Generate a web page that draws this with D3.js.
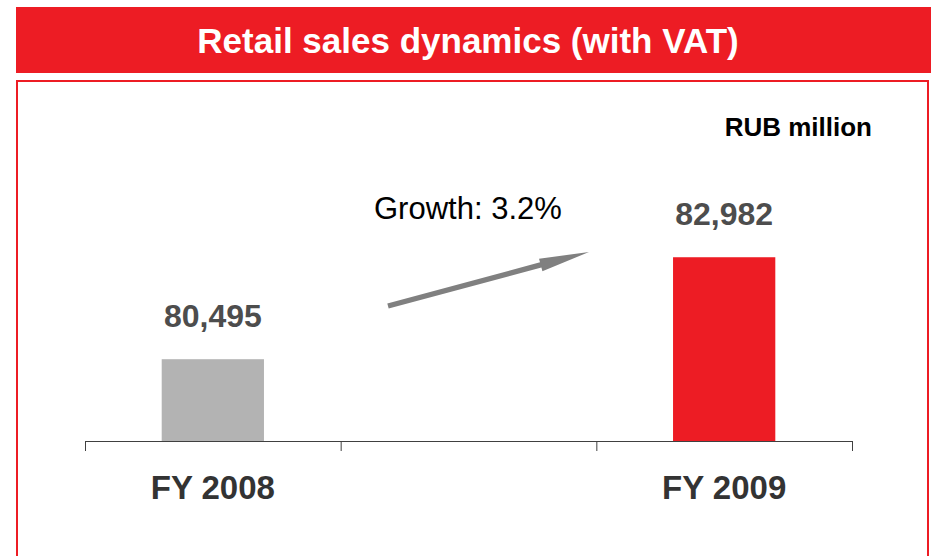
<!DOCTYPE html>
<meta charset="utf-8">
<style>
body { margin: 0; background: #fff; }
text { font-family: "Liberation Sans", Arial, sans-serif; }
</style>
<svg width="932" height="556"></svg>
<script src="https://d3js.org/d3.v7.min.js"></script>
<script>

var categories = ["FY 2008", "", "FY 2009"];
var values = [80495, null, 82982];
var barColors = ["#b3b3b3", null, "#ed1c24"];
var title = "Retail sales dynamics (with VAT)";
var unitLabel = "RUB million";
var growthLabel = "Growth: 3.2%";

var svg = d3.select("svg");
var red = "#ed1c24";

// header band and framed box
svg.append("rect")
    .attr("x", 16).attr("y", 7)
    .attr("width", 915).attr("height", 66)
    .attr("fill", red);

svg.append("text")
    .attr("x", 468).attr("y", 53)
    .attr("text-anchor", "middle")
    .attr("fill", "#fff")
    .style("font-size", "35px")
    .style("font-weight", "bold")
    .text(title);

svg.append("rect")
    .attr("x", 17).attr("y", 81)
    .attr("width", 911).attr("height", 490)
    .attr("fill", "none")
    .attr("stroke", red)
    .attr("stroke-width", 2);

svg.append("text")
    .attr("x", 872).attr("y", 136)
    .attr("text-anchor", "end")
    .attr("fill", "#000")
    .style("font-size", "26px")
    .style("font-weight", "bold")
    .text(unitLabel);

// scales
var x = d3.scaleBand()
    .domain(d3.range(categories.length))
    .range([85, 852])
    .paddingInner(0.6)
    .paddingOuter(0.3);

var y = d3.scaleLinear()
    .domain([78500, 84500])
    .range([441, 195]);

var edges = d3.scaleLinear()
    .domain([0, categories.length])
    .range(x.range());

var data = categories.map(function(c, i) {
  return {i: i, cat: c, value: values[i], color: barColors[i]};
});

// bars
svg.append("g")
  .selectAll("rect")
  .data(data.filter(function(d) { return d.value != null; }))
  .enter().append("rect")
    .attr("x", function(d) { return x(d.i); })
    .attr("y", function(d) { return y(d.value); })
    .attr("width", x.bandwidth())
    .attr("height", function(d) { return y.range()[0] - y(d.value); })
    .attr("fill", function(d) { return d.color; });

// value labels
svg.append("g")
  .selectAll("text")
  .data(data.filter(function(d) { return d.value != null; }))
  .enter().append("text")
    .attr("x", function(d) { return x(d.i) + x.bandwidth() / 2; })
    .attr("y", function(d) { return y(d.value) - 32; })
    .attr("text-anchor", "middle")
    .attr("fill", "#4d4d4d")
    .style("font-size", "32px")
    .style("font-weight", "bold")
    .text(function(d) { return d3.format(",")(d.value); });

// axis with ticks at band edges
var axis = svg.append("g")
    .attr("transform", "translate(0," + y.range()[0] + ")")
    .call(d3.axisBottom(edges)
      .tickValues(d3.range(categories.length + 1))
      .tickFormat("")
      .tickSize(10)
      .tickSizeOuter(0));
axis.select(".domain").attr("stroke", "#404040");
axis.selectAll(".tick line").attr("stroke", "#404040");

// category labels
svg.append("g")
  .selectAll("text")
  .data(data)
  .enter().append("text")
    .attr("x", function(d) { return x(d.i) + x.bandwidth() / 2; })
    .attr("y", 499)
    .attr("text-anchor", "middle")
    .attr("fill", "#333")
    .style("font-size", "33px")
    .style("font-weight", "bold")
    .text(function(d) { return d.cat; });

// growth annotation
svg.append("text")
    .attr("x", 374).attr("y", 219)
    .attr("fill", "#000")
    .style("font-size", "31px")
    .text(growthLabel);

var a0 = [388, 306], a1 = [589, 252];
var len = Math.hypot(a1[0] - a0[0], a1[1] - a0[1]);
var ang = Math.atan2(a1[1] - a0[1], a1[0] - a0[0]) * 180 / Math.PI;
var sh = 2.7, hw = 6.5, hl = 50;
svg.append("path")
    .attr("transform", "translate(" + a0 + ") rotate(" + ang + ")")
    .attr("d", "M0," + (-sh) + "L" + (len - hl) + "," + (-sh) + "L" + (len - hl) + "," + (-hw) +
      "L" + len + ",0L" + (len - hl) + "," + hw + "L" + (len - hl) + "," + sh + "L0," + sh + "Z")
    .attr("fill", "#808080");

</script>
